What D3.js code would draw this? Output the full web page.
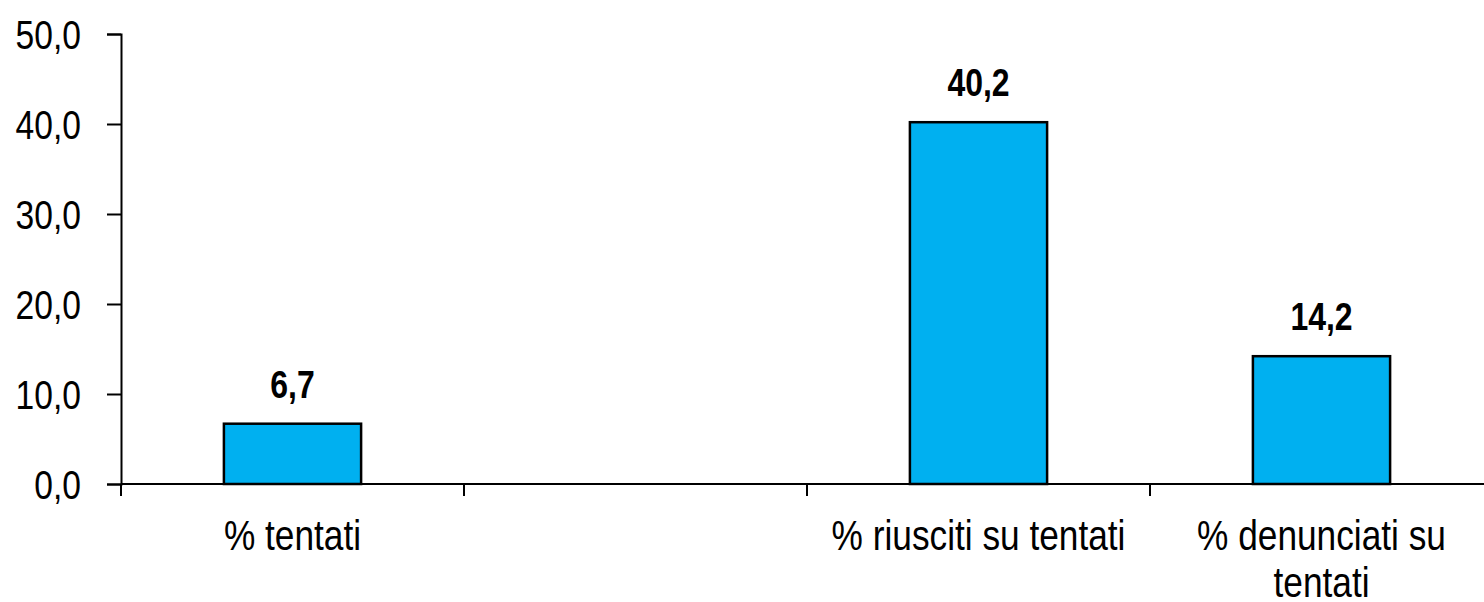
<!DOCTYPE html>
<html>
<head>
<meta charset="utf-8">
<script src="https://cdn.jsdelivr.net/npm/d3@7"></script>
<style>
  html, body { margin: 0; padding: 0; background: #fff; }
  svg { display: block; }
  text { font-family: "Liberation Sans", Arial, sans-serif; fill: #000; }
</style>
</head>
<body>
<svg id="chart" width="1484" height="602"></svg>
<script>
const categories = ["% tentati", "", "% riusciti su tentati", "% denunciati su tentati"];
const values = [6.7, null, 40.2, 14.2];
const yTicks = [0, 10, 20, 30, 40, 50];

const locale = d3.formatLocale({ decimal: ",", thousands: ".", grouping: [3], currency: ["", "€"] });
const fmt = locale.format(".1f");

const NARROW = 0.82; // emulate a narrow sans face

const svg = d3.select("#chart");
const mLeft = 121, mTop = 34, mBottom = 484, mRight = 1493;

const x = d3.scaleBand().domain(categories).range([mLeft, mRight]).padding(0);
const y = d3.scaleLinear().domain([0, 50]).range([mBottom, mTop]);

const data = categories.map((c, i) => ({ c, v: values[i] })).filter(d => d.v != null);

// bars
svg.append("g").selectAll("rect").data(data).join("rect")
  .attr("x", d => x(d.c) + x.bandwidth() * 0.3)
  .attr("width", x.bandwidth() * 0.4)
  .attr("y", d => y(d.v))
  .attr("height", d => y(0) - y(d.v))
  .attr("fill", "#00B0F0")
  .attr("stroke", "#000")
  .attr("stroke-width", 2.5);

// y axis
const yAxis = svg.append("g").attr("transform", `translate(${mLeft},0)`)
  .call(d3.axisLeft(y).tickValues(yTicks).tickFormat(fmt).tickSize(14).tickPadding(26));
yAxis.attr("font-family", null).attr("font-size", null);
yAxis.select(".domain").attr("stroke", "#000").attr("stroke-width", 2);
yAxis.selectAll(".tick line").attr("stroke", "#000").attr("stroke-width", 2);
yAxis.selectAll(".tick text")
  .attr("font-size", 41)
  .attr("dy", "0.36em")
  .attr("x", -40 / NARROW)
  .attr("transform", `scale(${NARROW},1)`);

// x axis line
svg.append("line").attr("x1", mLeft).attr("x2", 1484).attr("y1", y(0)).attr("y2", y(0))
  .attr("stroke", "#000").attr("stroke-width", 2);
// x ticks at band boundaries
svg.append("g").selectAll("line").data(categories).join("line")
  .attr("x1", d => x(d)).attr("x2", d => x(d))
  .attr("y1", y(0)).attr("y2", y(0) + 12)
  .attr("stroke", "#000").attr("stroke-width", 2);

// value labels
svg.append("g").selectAll("text").data(data).join("text")
  .attr("transform", d => `translate(${x(d.c) + x.bandwidth() / 2},${y(d.v) - 26}) scale(${NARROW},1)`)
  .attr("text-anchor", "middle")
  .attr("font-size", 39)
  .attr("font-weight", "bold")
  .text(d => fmt(d.v));

// category labels with wrapping
const maxW = 320 / NARROW;
const catG = svg.append("g");
categories.forEach(c => {
  if (!c) return;
  const cx = x(c) + x.bandwidth() / 2;
  const t = catG.append("text")
    .attr("transform", `translate(${cx},550) scale(${NARROW},1)`)
    .attr("text-anchor", "middle")
    .attr("font-size", 43);
  const words = c.split(" ");
  let line = [];
  let ts = t.append("tspan").attr("x", 0).attr("dy", 0);
  words.forEach(w => {
    line.push(w);
    ts.text(line.join(" "));
    if (ts.node().getComputedTextLength() > maxW && line.length > 1) {
      line.pop();
      ts.text(line.join(" "));
      line = [w];
      ts = t.append("tspan").attr("x", 0).attr("dy", 47).text(w);
    }
  });
});
</script>
</body>
</html>
